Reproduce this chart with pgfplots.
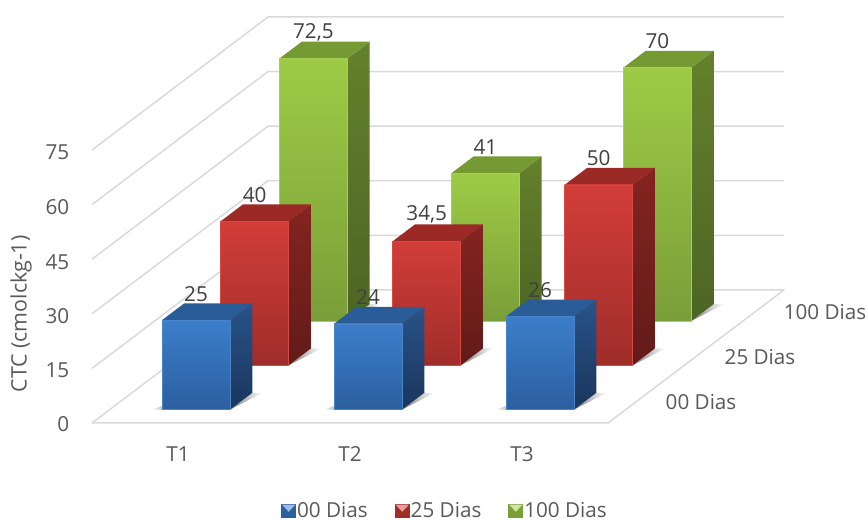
\documentclass[border=0pt]{standalone}
\usepackage{fontspec}
\setmainfont{Open Sans}
\usepackage{pgfplots}
\usepackage{pgfplotstable}
\pgfplotsset{compat=1.18}
\definecolor{gridc}{HTML}{D9D9D9}
\definecolor{axc}{HTML}{595959}
\definecolor{labc}{HTML}{404040}
\definecolor{shad}{HTML}{808080}
% blue
\definecolor{bFT}{HTML}{3C7ECB}\definecolor{bFB}{HTML}{2B5F9F}\definecolor{bT}{HTML}{2A5C97}
\definecolor{bST}{HTML}{295389}\definecolor{bSB}{HTML}{1A365C}\definecolor{bE}{HTML}{4A85CC}
% red
\definecolor{rFT}{HTML}{D23D39}\definecolor{rFB}{HTML}{9F2D2A}\definecolor{rT}{HTML}{9B2A27}
\definecolor{rST}{HTML}{852420}\definecolor{rSB}{HTML}{611B19}\definecolor{rE}{HTML}{D64A46}
% green
\definecolor{gFT}{HTML}{9DCB46}\definecolor{gFB}{HTML}{7A9E38}\definecolor{gT}{HTML}{759A33}
\definecolor{gST}{HTML}{64812C}\definecolor{gSB}{HTML}{4D6524}\definecolor{gE}{HTML}{A6D052}
\newcommand{\threedbar}[4]{%
  \pgfmathsetmacro\xa{#1}\pgfmathsetmacro\xb{#1+0.395}%
  \pgfmathsetmacro\ya{#2}\pgfmathsetmacro\yb{#2+0.38}%
  \pgfmathsetmacro\zt{#3-0.4}%
  \pgfmathsetmacro\sa{#1+0.395+0.06}\pgfmathsetmacro\sb{#1-0.06}\pgfmathsetmacro\sc{#1-0.053}\pgfmathsetmacro\sd{#2+0.16}%
  \addplot3[draw=none,left color=shad,right color=white] coordinates {(\xb,\ya,0) (\xb,\yb,0) (\sa,\yb,0) (\xb,\ya,0)};
  \addplot3[draw=none,right color=shad,left color=white] coordinates {(\xa,\ya,0) (\sb,\ya,0) (\xa,\sd,0) (\xa,\ya,0)};
  \addplot3[draw=none,top color=#4ST,bottom color=#4SB] coordinates {(\xb,\ya,0) (\xb,\yb,0) (\xb,\yb,\zt) (\xb,\ya,\zt) (\xb,\ya,0)};
  \addplot3[draw=none,fill=#4T] coordinates {(\xa,\ya,\zt) (\xb,\ya,\zt) (\xb,\yb,\zt) (\xa,\yb,\zt) (\xa,\ya,\zt)};
  \addplot3[draw=#4E,line width=0.4pt,line join=round,top color=#4FT,bottom color=#4FB] coordinates {(\xa,\ya,0) (\xb,\ya,0) (\xb,\ya,\zt) (\xa,\ya,\zt) (\xa,\ya,0)};
}
\newcommand{\swatch}[1]{%
  \path[draw=none] (0pt,0pt) rectangle (14.2pt,0pt);
  \fill[draw=none,#1FB] (2.25pt,-5.3pt) rectangle (13.45pt,5.3pt);
  \fill[draw=none,#1E!55!white] (2.85pt,4.7pt) -- (12.85pt,4.7pt) -- (7.85pt,-0.6pt) -- cycle;
}
\begin{document}
\begin{tikzpicture}
\begin{axis}[
  x={(129pt,0pt)},y={(44pt,33.25pt)},z={(0pt,2.73pt)},
  xmin=0,xmax=3,ymin=0,ymax=3,zmin=0,zmax=75,
  hide axis,clip=false,
  legend style={at={(axis description cs:0.5065,-0.2167)},anchor=center,draw=none,fill=none,
    font=\fontsize{15.5}{18}\selectfont,text=axc,legend columns=3,
    inner sep=0pt,outer sep=0pt,nodes={inner sep=0pt},
    /tikz/every even column/.append style={column sep=18pt}},
  legend cell align=left,
]
% legend
\addlegendimage{legend image code/.code={\swatch{b}}}
\addlegendentry{00 Dias}
\addlegendimage{legend image code/.code={\swatch{r}}}
\addlegendentry{25 Dias}
\addlegendimage{legend image code/.code={\swatch{g}}}
\addlegendentry{100 Dias}
% walls and floor
\addplot3[gridc,line width=1.1pt,line join=round] coordinates {(3,0,0) (0,0,0) (0,3,0) (3,3,0) (3,0,0)};
\addplot3[gridc,line width=1.1pt,line join=round] coordinates {(0,0,15) (0,3,15) (3,3,15)};
\addplot3[gridc,line width=1.1pt,line join=round] coordinates {(0,0,30) (0,3,30) (3,3,30)};
\addplot3[gridc,line width=1.1pt,line join=round] coordinates {(0,0,45) (0,3,45) (3,3,45)};
\addplot3[gridc,line width=1.1pt,line join=round] coordinates {(0,0,60) (0,3,60) (3,3,60)};
\addplot3[gridc,line width=1.1pt,line join=round] coordinates {(0,0,75) (0,3,75) (3,3,75)};
% 100 Dias
\threedbar{0.305}{2.3}{72.5}{g}
\threedbar{1.305}{2.3}{41}{g}
\threedbar{2.305}{2.3}{70}{g}
% 25 Dias
\threedbar{0.305}{1.3}{40}{r}
\threedbar{1.305}{1.3}{34.5}{r}
\threedbar{2.305}{1.3}{50}{r}
% 00 Dias
\threedbar{0.305}{0.3}{25}{b}
\threedbar{1.305}{0.3}{24}{b}
\threedbar{2.305}{0.3}{26}{b}
% data labels
\addplot3[draw=none,mark=none,point meta=explicit symbolic,nodes near coords,
  nodes near coords align={anchor=center},
  every node near coord/.append style={anchor=center,yshift=18.75pt,text=labc,inner sep=0pt,font=\fontsize{15.5}{18}\selectfont}]
  table[x=x,y=y,z=z,meta=label]{
x y z label
0.5025 2.3 72.5 72,5
1.5025 2.3 41 41
2.5025 2.3 70 70
0.5025 1.3 40 40
1.5025 1.3 34.5 34,5
2.5025 1.3 50 50
0.5025 0.3 25 25
1.5025 0.3 24 24
2.5025 0.3 26 26
};
% tick labels
\begin{scope}[every node/.style={text=axc,inner sep=0pt,font=\fontsize{15.5}{18}\selectfont}]
\node[anchor=east] at (axis cs:-0.1308,0,74.45) {75};
\node[anchor=east] at (axis cs:-0.1308,0,59.34) {60};
\node[anchor=east] at (axis cs:-0.1308,0,44.23) {45};
\node[anchor=east] at (axis cs:-0.1308,0,29.4) {30};
\node[anchor=east] at (axis cs:-0.1308,0,14.56) {15};
\node[anchor=east] at (axis cs:-0.1308,0,-0.27) {0};
\node at (axis cs:0.5,0,-8.6) {T1};
\node at (axis cs:1.5,0,-8.6) {T2};
\node at (axis cs:2.5,0,-8.6) {T3};
\node at (axis cs:3.5407,0,5.77) {00 Dias};
\node at (axis cs:3.8837,0,18.13) {25 Dias};
\node at (axis cs:4.2616,0,30.49) {100 Dias};
\node[rotate=90] at (axis cs:-0.4128,0,29.95) {\fontsize{16}{18}\selectfont CTC (cmolckg-1)};
\end{scope}
% page box
\path (axis cs:-0.5349,0,-26.65) rectangle (axis cs:4.5116,0,116.2);
\end{axis}
\end{tikzpicture}
\end{document}
